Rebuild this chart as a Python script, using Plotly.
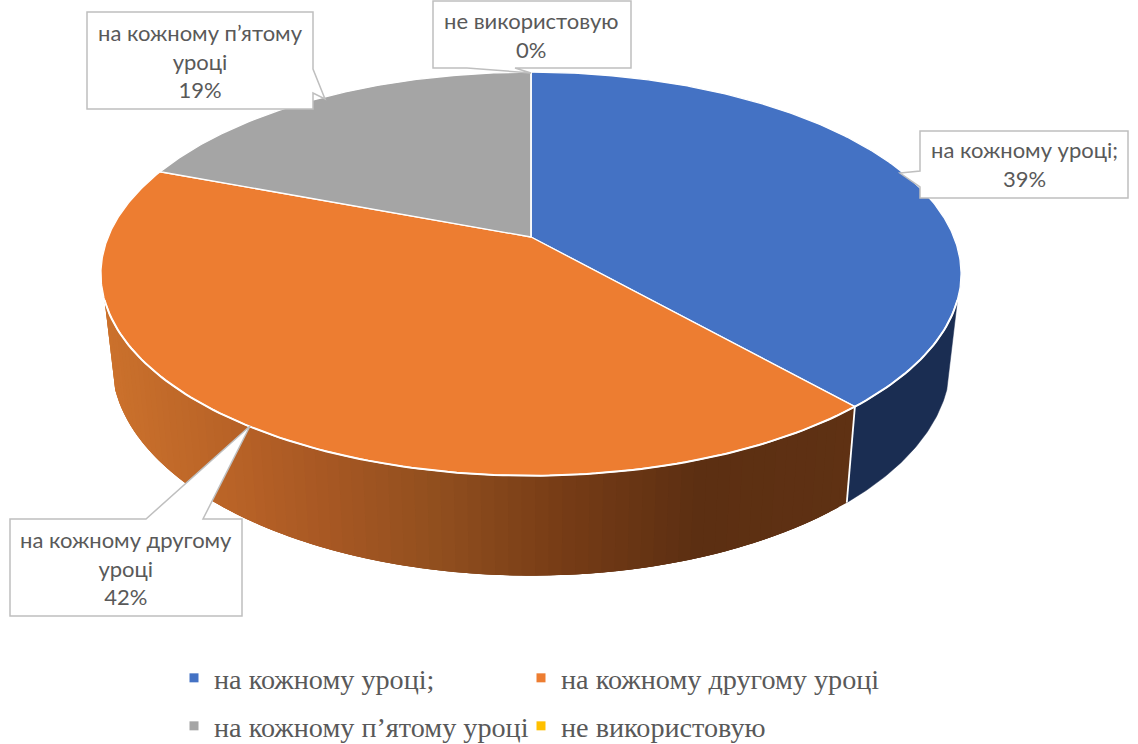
import math
import plotly.graph_objects as go

categories = ["на кожному уроці;", "на кожному другому уроці", "на кожному п’ятому уроці", "не використовую"]
shares = [38.51, 42.29, 19.2, 0.0]
callout_names = ["на кожному уроці;", "на кожному другому<br>уроці", "на кожному п’ятому<br>уроці", "не використовую"]
colors = ["#4472C4", "#ED7D31", "#A5A5A5", "#FFC000"]

# projection of the tilted disc onto the pixel-scaled axes
CX, CY, RX, RY, K = 531.0, 237.0, 422.8, 195.0, 0.183
S = 0.975                    # bottom rim width scale
DEPTH, DEPTH_SLOPE, DEPTH_REF = 100.0, 0.058, 476.0


def top(theta):
    u, v = math.sin(theta), -math.cos(theta)
    d = 1 - K * v
    return CX + RX * u / d, CY + RY * v / d


def bottom(theta):
    x, y = top(theta)
    return CX + (x - CX) * S, y + DEPTH + DEPTH_SLOPE * (y - DEPTH_REF)


def lerp_hex(stops, x):
    if x <= stops[0][0]:
        return stops[0][1]
    for (x0, c0), (x1, c1) in zip(stops, stops[1:]):
        if x <= x1:
            t = (x - x0) / (x1 - x0)
            a = [int(c0[i:i + 2], 16) for i in (1, 3, 5)]
            b = [int(c1[i:i + 2], 16) for i in (1, 3, 5)]
            return "#%02x%02x%02x" % tuple(round(p + (q - p) * t) for p, q in zip(a, b))
    return stops[-1][1]


orange_side = [(105, "#CB712C"), (250, "#B56026"), (330, "#A65723"), (440, "#904E1E"),
               (560, "#773C16"), (700, "#5C2F12"), (860, "#5F3113")]

fig = go.Figure()

total = sum(shares)
edges = [0.0]
for value in shares:
    edges.append(edges[-1] + value / total * 2 * math.pi)

# visible part of the rim, with v >= 0.305
vis_a = math.acos(-0.305)
vis_b = 2 * math.pi - vis_a
STEP = math.radians(1.5)


def rim_poly(t0, t1):
    n = max(1, int((t1 - t0) / math.radians(0.5)))
    ts = [t0 + (t1 - t0) * j / n for j in range(n + 1)]
    p = [top(t) for t in ts] + [bottom(t) for t in reversed(ts)]
    p.append(p[0])
    return [q[0] for q in p], [q[1] for q in p]


# dark blue wall
xs, ys = rim_poly(vis_a, edges[1])
fig.add_trace(go.Scatter(x=xs, y=ys, mode="lines", fill="toself", fillcolor="#1A2D52",
                         line=dict(color="#1A2D52", width=0.5), hoverinfo="skip", showlegend=False))

# orange wall, painted from the right end so that each band overlaps the previous one
a, b = edges[1], vis_b
n = int((b - a) / STEP)
for i in range(n):
    t0 = a + (b - a) * i / n
    t1 = min(b, a + (b - a) * (i + 3) / n)
    xs, ys = rim_poly(t0, t1)
    col = lerp_hex(orange_side, (top(t0)[0] + top(t0 + STEP)[0]) / 2)
    fig.add_trace(go.Scatter(x=xs, y=ys, mode="lines", fill="toself", fillcolor=col,
                             line=dict(width=0), hoverinfo="skip", showlegend=False))

# separator on the rim
sep_top, sep_bot = top(edges[1]), bottom(edges[1])
fig.add_trace(go.Scatter(x=[sep_top[0], sep_bot[0]], y=[sep_top[1], sep_bot[1]], mode="lines",
                         line=dict(color="white", width=1.8), hoverinfo="skip", showlegend=False))

# top faces
for i, name in enumerate(categories):
    a, b = edges[i], edges[i + 1]
    n = max(2, int((b - a) / math.radians(0.5)))
    pts = [top(a + (b - a) * j / n) for j in range(n + 1)]
    xs = [CX] + [p[0] for p in pts] + [CX]
    ys = [CY] + [p[1] for p in pts] + [CY]
    fig.add_trace(go.Scatter(x=xs, y=ys, mode="lines", fill="toself", fillcolor=colors[i],
                             line=dict(color="white", width=1.3), name=name,
                             hovertemplate=name + "<extra></extra>", showlegend=False))

# front white rim
n = 140
pts = [top(vis_a + (vis_b - vis_a) * j / n) for j in range(n + 1)]
fig.add_trace(go.Scatter(x=[p[0] for p in pts], y=[p[1] for p in pts], mode="lines",
                         line=dict(color="white", width=2), hoverinfo="skip", showlegend=False))

# legend keys: one legend per entry so that the 2x2 grid keeps its spacing
legend_ids = ["legend", "legend2", "legend3", "legend4"]
for i, name in enumerate(categories):
    fig.add_trace(go.Scatter(x=[None], y=[None], mode="markers", name=name,
                             marker=dict(symbol="square", size=9, color=colors[i]),
                             legend=legend_ids[i], hoverinfo="skip"))

LINE = "#BFBFBF"
# callouts: box left, top, right, bottom, then pointer
shapes = [
    "M920,131 H1128 V198 H920 V187 L900,173 L920,171 Z",
    "M10,519 H146 L250,426 L203,519 H242 V616 H10 Z",
    "M87,12 H313 V69 L325,99 L313,93 V109 H87 Z",
    "M433,1 H631 V68 H515 L531,73 L467,68 H433 Z",
]
for path in shapes:
    fig.add_shape(type="path", path=path, xref="x", yref="y", fillcolor="white",
                  line=dict(color=LINE, width=1.5), layer="above")

label_pos = [(1024, 164), (126, 568), (200, 61), (531, 35)]
for i, name in enumerate(callout_names):
    fig.add_annotation(x=label_pos[i][0], y=label_pos[i][1], xref="x", yref="y",
                       text=f"{name}<br>{round(shares[i] / total * 100)}%", showarrow=False,
                       font=dict(family="Lato", size=22, color="#595959"), align="center")

legend_style = dict(xanchor="left", yanchor="middle", bgcolor="rgba(0,0,0,0)",
                    font=dict(family="Liberation Serif", size=28.2, color="#595959"),
                    itemclick=False, itemdoubleclick=False)
legend_x = [174, 521, 174, 521]
legend_y = [678, 678, 726, 726]
legend_layout = {lid: dict(x=legend_x[i] / 1138, y=1 - legend_y[i] / 744, **legend_style)
                 for i, lid in enumerate(legend_ids)}
fig.update_layout(
    width=1138, height=744, margin=dict(l=0, r=0, t=0, b=0, autoexpand=False),
    paper_bgcolor="white", plot_bgcolor="white",
    xaxis=dict(range=[0, 1138], visible=False, fixedrange=True),
    yaxis=dict(range=[744, 0], visible=False, fixedrange=True),
    **legend_layout,
)
fig.write_html("out.html", config=dict(displayModeBar=False),
               post_script="document.body.style.margin='0';document.documentElement.style.overflow='hidden';")
